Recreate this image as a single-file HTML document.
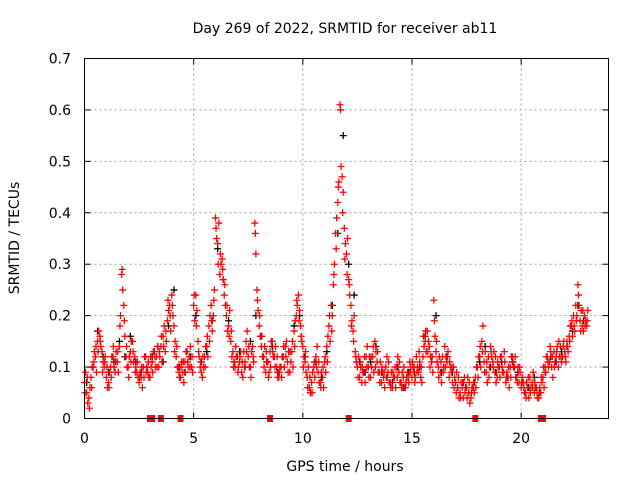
<!DOCTYPE html>
<html><head><meta charset="utf-8"><style>
body{margin:0;background:#fff}
svg{display:block;font-family:"DejaVu Sans","Liberation Sans",sans-serif}
</style></head><body>
<svg id="chart" width="640" height="480">
<text x="345" y="33" text-anchor="middle" font-size="14">Day 269 of 2022, SRMTID for receiver ab11</text>
<text x="19" y="238" text-anchor="middle" font-size="14" transform="rotate(-90 19 238)">SRMTID / TECUs</text>
<text x="345" y="471" text-anchor="middle" font-size="14">GPS time / hours</text>
<g id="grid"></g>
<g id="ticks"></g>
<g id="marks"></g>
<rect x="84.5" y="58.5" width="524" height="360" fill="none" stroke="#000"/>
</svg>
<script>
const xTicks=[0,5,10,15,20];
const yTicks=[0,0.1,0.2,0.3,0.4,0.5,0.6,0.7];
const yTickLabels=["0","0.1","0.2","0.3","0.4","0.5","0.6","0.7"];
const redA=[0.07,0.05,0.04,0.08,0.10,0.12,0.15,0.16,0.13,0.10,
0.08,0.07,0.10,0.12,0.09,0.11,0.14,0.28,0.22,0.12,
0.10,0.13,0.15,0.12,0.09,0.07,0.08,0.10,0.12,0.09,
0.08,0.11,0.13,0.12,0.10,0.14,0.16,0.13,0.19,0.22,
0.24,0.18,0.12,0.10,0.08,0.09,0.11,0.13,0.12,0.10,
0.22,0.24,0.15,0.10,0.08,0.12,0.14,0.18,0.22,0.20,
0.39,0.34,0.28,0.31,0.24,0.20,0.18,0.15,0.13,0.10,
0.12,0.11,0.09,0.13,0.15,0.12,0.10,0.14,0.38,0.25,
0.18,0.14,0.12,0.09,0.11,0.13,0.15,0.12,0.10,0.08,
0.10,0.12,0.14,0.11,0.09,0.13,0.17,0.20,0.24,0.18,
0.14,0.11,0.08,0.06,0.07,0.10,0.12,0.09,0.07,0.08,
0.11,0.14,0.18,0.22,0.26,0.36,0.42,0.61,0.47,0.37,
0.32,0.27,0.22,0.17,0.13,0.10,0.08,0.07,0.09,0.12,
0.10,0.08,0.12,0.15,0.11,0.09,0.07,0.08,0.10,0.09,
0.07,0.06,0.08,0.10,0.09,0.07,0.08,0.06,0.09,0.11,
0.08,0.10,0.12,0.09,0.08,0.12,0.15,0.17,0.14,0.11,
0.23,0.13,0.10,0.09,0.12,0.14,0.11,0.08,0.09,0.10,
0.07,0.06,0.05,0.06,0.08,0.06,0.05,0.04,0.06,0.08,
0.10,0.12,0.15,0.11,0.09,0.12,0.14,0.11,0.09,0.08,
0.10,0.12,0.09,0.07,0.08,0.10,0.12,0.10,0.08,0.07,
0.06,0.07,0.05,0.06,0.08,0.07,0.05,0.06,0.04,0.05,
0.08,0.10,0.12,0.11,0.10,0.13,0.12,0.10,0.14,0.12,
0.13,0.15,0.16,0.18,0.20,0.22,0.26,0.19,0.18,0.20,0.18];
const redB=[0.09,0.03,0.06,0.10,0.13,0.09,0.17,0.14,0.11,0.12,
0.06,0.09,0.12,0.10,0.13,0.09,0.20,0.25,0.16,0.10,
0.12,0.15,0.11,0.10,0.08,0.09,0.06,0.12,0.10,0.08,
0.10,0.13,0.10,0.14,0.12,0.11,0.18,0.15,0.21,0.17,
0.20,0.15,0.10,0.08,0.11,0.07,0.13,0.10,0.14,0.09,
0.19,0.21,0.12,0.09,0.10,0.14,0.12,0.20,0.17,0.25,
0.35,0.38,0.30,0.27,0.22,0.17,0.21,0.12,0.11,0.12,
0.10,0.13,0.08,0.11,0.17,0.10,0.13,0.11,0.32,0.21,
0.16,0.12,0.14,0.11,0.09,0.15,0.12,0.14,0.08,0.10,
0.12,0.10,0.15,0.13,0.11,0.10,0.19,0.22,0.21,0.15,
0.12,0.09,0.10,0.05,0.09,0.08,0.14,0.07,0.09,0.06,
0.09,0.16,0.15,0.20,0.30,0.39,0.46,0.49,0.44,0.34,
0.35,0.24,0.19,0.20,0.11,0.12,0.10,0.09,0.07,0.14,
0.12,0.10,0.09,0.13,0.09,0.11,0.09,0.06,0.12,0.07,
0.09,0.08,0.06,0.12,0.07,0.09,0.06,0.08,0.07,0.10,
0.10,0.08,0.10,0.11,0.07,0.14,0.13,0.15,0.12,0.09,
0.16,0.11,0.12,0.07,0.10,0.12,0.13,0.10,0.07,0.08,
0.09,0.04,0.07,0.04,0.06,0.08,0.03,0.06,0.05,0.10,
0.12,0.10,0.18,0.13,0.07,0.10,0.12,0.13,0.07,0.10,
0.12,0.09,0.11,0.09,0.06,0.12,0.10,0.08,0.10,0.09,
0.08,0.05,0.07,0.04,0.06,0.09,0.06,0.04,0.06,0.07,
0.06,0.12,0.10,0.13,0.08,0.11,0.14,0.12,0.11,0.15,
0.11,0.13,0.18,0.16,0.17,0.20,0.22,0.21,0.17,0.19,0.21];
const redC=[0.05,0.08,0.02,0.06,0.11,0.14,0.13,0.15,0.09,0.11,
0.10,0.06,0.08,0.14,0.11,0.13,0.18,0.29,0.19,0.14,
0.08,0.11,0.13,0.09,0.11,0.08,0.10,0.08,0.09,0.11,
0.12,0.09,0.12,0.10,0.13,0.16,0.14,0.17,0.23,0.20,
0.22,0.13,0.14,0.09,0.10,0.11,0.09,0.11,0.10,0.12,
0.24,0.18,0.13,0.11,0.12,0.10,0.16,0.15,0.19,0.23,
0.37,0.30,0.32,0.29,0.26,0.22,0.16,0.17,0.10,0.14,
0.09,0.12,0.11,0.10,0.13,0.14,0.08,0.12,0.36,0.23,
0.20,0.16,0.10,0.13,0.08,0.10,0.13,0.10,0.12,0.09,
0.08,0.14,0.12,0.09,0.13,0.15,0.14,0.23,0.19,0.16,
0.10,0.13,0.06,0.08,0.05,0.11,0.10,0.11,0.06,0.10,
0.12,0.11,0.20,0.17,0.28,0.33,0.45,0.60,0.40,0.31,
0.28,0.26,0.18,0.15,0.12,0.08,0.11,0.10,0.12,0.10,
0.08,0.12,0.14,0.10,0.13,0.07,0.10,0.09,0.08,0.11,
0.06,0.09,0.10,0.08,0.11,0.06,0.10,0.07,0.08,0.09,
0.11,0.07,0.09,0.13,0.10,0.16,0.17,0.13,0.10,0.12,
0.19,0.15,0.08,0.11,0.09,0.10,0.12,0.11,0.10,0.06,
0.05,0.08,0.04,0.07,0.05,0.04,0.07,0.05,0.07,0.06,
0.08,0.14,0.13,0.09,0.11,0.08,0.13,0.10,0.12,0.11,
0.08,0.10,0.13,0.08,0.10,0.08,0.11,0.12,0.07,0.10,
0.07,0.06,0.04,0.08,0.05,0.06,0.07,0.05,0.05,0.08,
0.10,0.09,0.11,0.14,0.12,0.10,0.13,0.15,0.12,0.14,
0.12,0.14,0.15,0.19,0.18,0.19,0.24,0.17,0.21,0.18,0.19];
const black=[0.07,0.10,0.17,0.12,0.09,0.11,0.15,0.12,0.16,0.11,0.09,0.10,
0.12,0.14,0.11,0.18,0.25,0.10,0.09,0.12,0.20,0.11,0.13,0.19,
0.33,0.27,0.19,0.11,0.13,0.10,0.15,0.20,0.16,0.11,0.14,0.09,
0.12,0.13,0.18,0.20,0.12,0.05,0.11,0.08,0.13,0.22,0.36,0.55,
0.30,0.24,0.11,0.09,0.11,0.14,0.09,0.08,0.07,0.10,0.06,0.09,
0.09,0.10,0.16,0.12,0.20,0.09,0.12,0.09,0.06,0.07,0.05,0.07,
0.11,0.14,0.10,0.09,0.11,0.08,0.11,0.09,0.07,0.06,0.08,0.05,
0.09,0.12,0.11,0.13,0.14,0.17,0.22,0.19];
const zeroTimes=[3.0,3.1,3.5,4.4,8.5,12.1,17.9,20.9,21.0];

const X0=84.5,X1=608.5,Y0=418.5,Y1=58.5,XMAX=24,YMAX=0.7;
const xs=v=>X0+(X1-X0)*v/XMAX;
const ys=v=>Y0-(Y0-Y1)*v/YMAX;
const NS="http://www.w3.org/2000/svg";
const grid=document.getElementById('grid'),ticks=document.getElementById('ticks'),marks=document.getElementById('marks');
function mk(tag,a,parent){const e=document.createElementNS(NS,tag);for(const k in a)e.setAttribute(k,a[k]);parent.appendChild(e);return e;}
xTicks.forEach(t=>{
  const x=xs(t);
  if(t>0){const g=mk('line',{x1:x,x2:x,y1:Y1,y2:Y0,stroke:'#a0a0a0','stroke-dasharray':'2,3'},grid);
  
  }
  mk('line',{x1:x,x2:x,y1:Y0,y2:Y0-6,stroke:'#000'},ticks);
  mk('line',{x1:x,x2:x,y1:Y1,y2:Y1+6,stroke:'#000'},ticks);
  const l=mk('text',{x:x,y:443,'text-anchor':'middle','font-size':14},ticks);
  l.textContent=t;
  
  
});
yTicks.forEach((t,i)=>{
  const y=ys(t);
  if(t>0&&t<YMAX){const g=mk('line',{x1:X0,x2:X1,y1:y,y2:y,stroke:'#a0a0a0','stroke-dasharray':'2,3'},grid);
  
  }
  mk('line',{x1:X0,x2:X0+6,y1:y,y2:y,stroke:'#000'},ticks);
  mk('line',{x1:X1,x2:X1-6,y1:y,y2:y,stroke:'#000'},ticks);
  const l=mk('text',{x:71,y:y+5,'text-anchor':'end','font-size':14},ticks);
  l.textContent=yTickLabels[i];
  
  
});
function cross(t,v,col,name){
  const x=xs(t),y=ys(v);
  const p=mk('path',{d:`M${x-3.5},${y}H${x+3.5}M${x},${y-3.5}V${y+3.5}`,stroke:col,'stroke-width':1.3,fill:'none'},marks);
  
  
}
black.forEach((v,i)=>cross(i*0.25+0.1,v,'#000','black-point'));
redA.forEach((v,i)=>cross(i*0.1,v,'#ff0000','red-point'));
redB.forEach((v,i)=>cross(i*0.1+0.05,v,'#ff0000','red-point'));
redC.forEach((v,i)=>cross(i*0.1+0.025,v,'#ff0000','red-point'));
zeroTimes.forEach(t=>{
  const r=mk('rect',{x:xs(t)-3,y:Y0-3.5,width:6,height:7,fill:'#ff0000'},marks);
  
  
});
</script>
</body></html>
